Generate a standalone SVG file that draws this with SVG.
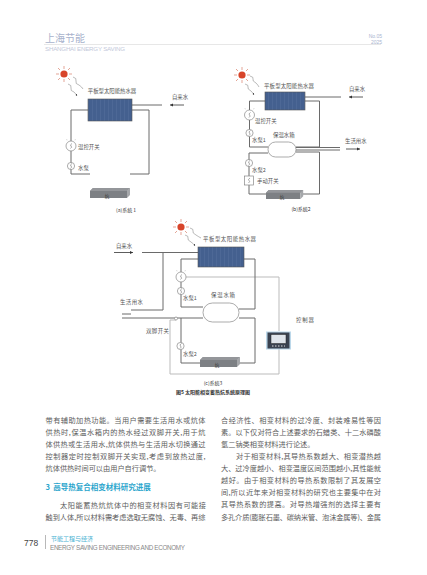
<svg xmlns="http://www.w3.org/2000/svg" width="427" height="575" viewBox="0 0 427 575">
<style>
text{font-family:"Noto Sans CJK SC","Liberation Sans",sans-serif}
.l{font-size:5.4px;fill:#555}
.c{text-anchor:middle}
.b{font-size:7.2px;fill:#5c5c5c}
.p{fill:none;stroke:#6a6a6a;stroke-width:1}
.g{fill:none;stroke:#bbb;stroke-width:1}
.dev{fill:#fff;stroke:#888;stroke-width:.7}
.s{fill:none;stroke:#555;stroke-width:.5}
.w{fill:none;stroke:#777;stroke-width:.5;marker-end:url(#am)}
.arr{stroke:#333;stroke-width:.8;fill:none;marker-end:url(#ah)}
.lat{font-family:"Liberation Sans",sans-serif}
</style>
<defs>
<marker id="ah" markerWidth="5" markerHeight="4" refX="4" refY="2" orient="auto"><path d="M0 0L4 2L0 4Z" fill="#333"/></marker>
<marker id="am" markerUnits="userSpaceOnUse" markerWidth="3" markerHeight="3" refX="2" refY="1" orient="auto"><path d="M0 0L2 1L0 2Z" fill="#444"/></marker>
<pattern id="ps" width="4" height="4" patternUnits="userSpaceOnUse"><rect width="4" height="4" fill="#44608f"/><path d="M0 0V4" stroke="#7288b4" stroke-width=".4"/></pattern>
<g id="sun"><g stroke="#d8806a" stroke-width=".7"><path d="M-8 0H-5M5 0H8M0 -8V-5M0 5V8M-6 -6L-4 -4M4 4L6 6M-6 6L-4 4M4 -4L6 -6"/></g><circle r="3.6" fill="#d8442a"/></g>
<g id="heat"><path d="M0 3L3 0H40L37 3V10H0Z" fill="#7d8084"/><path d="M3 0H40L37 3H0Z" fill="#94969a"/><path d="M37 3L40 0V7L37 10Z" fill="#a5a7aa"/></g>
<path id="sw" class="s" d="M1 -2.500Q-1.500 -1 0 0T-.5 2.500"/>
<g id="tick" stroke="#aaa" stroke-width=".4"><path d="M-5 -6.500L-3.500 -6M5 -6.500L3.500 -6"/></g>
</defs>
<rect width="427" height="575" fill="#fff"/>
<g id="header">
<text x="45" y="41.500" font-size="10" fill="#a8b2cc">上海节能</text>
<path d="M44 44.500H381" stroke="#dcdcdc" stroke-width=".7"/>
<text class="lat" x="45" y="50.500" font-size="6.200" fill="#c3c9da" textLength="80">SHANGHAI ENERGY SAVING</text>
<text class="lat" x="382" y="38" font-size="5" fill="#a9b4d0" text-anchor="end">No.05</text>
<text class="lat" x="382" y="44" font-size="5" fill="#a9b4d0" text-anchor="end">2025</text>
</g>

<g id="connectors">
<path class="p" d="M88 110H71V174H90M130 174H149V110H132M132 105H162"/>
<path class="arr" d="M184 105H170"/>
<path class="w" d="M73 77q4 1 3 4t3 4q3 2 4 4M68 84q4 1 3 4t3 4q2 2 3 4"/>
<path class="p" d="M265 101H249.500V147H268M296 147H319.500V101H305M305 97H341M296 147.500H340M296 150H340M296 152H319.500V194H302M266 194H249V153H268"/>
<path class="arr" d="M363 97H349"/>
<path class="arr" d="M346 149H360"/>
<path class="w" d="M250 76q4 1 3 3t3 4q2 2 3 4M245 84q4 1 3 3t3 4q2 2 3 4"/>
<path class="g" d="M186 277H279V331M279 349V374H170V320H176"/>
<path class="p" d="M142 252.500H198M163 252.500V310H131M131 318H203M198 259H181V307H203M244 259H255V309H239M239 318H255V363H240M200 363H181V318"/>
<path class="arr" d="M114 252.500H133"/>
<path class="w" d="M190 228q4 1 3 3t3 4q3 2 5 3M185 235q4 1 3 3t3 4q3 2 4 4"/>
</g>

<g id="sys1-sun"><use href="#sun" x="64" y="74"/></g>
<g id="sys1-panel"><rect x="88" y="99" width="44" height="22" fill="url(#ps)" stroke="#555" stroke-width=".6"/><text class="l c" x="112" y="93">平板型太阳能热水器</text></g>
<g id="sys1-in"><text class="l c" x="180" y="99">自来水</text></g>
<g id="sys1-switch"><circle class="dev" cx="71" cy="146" r="5"/><use href="#sw" x="71" y="146"/><use href="#tick" x="71" y="146"/><text class="l" x="78" y="148.500">温控开关</text></g>
<g id="sys1-pump"><circle class="dev" cx="71" cy="166" r="3.600"/><use href="#sw" x="71" y="166"/><text class="l" x="78" y="169.500">水泵</text></g>
<g id="sys1-heat"><use href="#heat" x="90" y="188"/><text class="c" x="107" y="198" font-size="4.500" fill="#333">炕</text></g>
<g id="sys1-cap"><text class="c" x="126" y="212" font-size="5" fill="#333">(a)系统 1</text></g>

<g id="sys2-sun"><use href="#sun" x="242" y="75"/></g>
<g id="sys2-panel"><rect x="265" y="92" width="40" height="18" fill="url(#ps)" stroke="#555" stroke-width=".6"/><text class="l" x="264" y="88" textLength="50">平板型太阳能热水器</text></g>
<g id="sys2-in"><text class="l c" x="357" y="91">自来水</text></g>
<g id="sys2-switch"><circle class="dev" cx="249.500" cy="115" r="5"/><use href="#sw" x="249.500" y="115"/><use href="#tick" x="249.500" y="115"/><text class="l" x="255" y="122.500">温控开关</text></g>
<g id="sys2-pump1"><circle class="dev" cx="249.500" cy="133" r="3.600"/><use href="#sw" x="249.500" y="133"/><text class="l" x="252" y="141.500">水泵1</text></g>
<g id="sys2-tank"><rect x="268" y="142" width="28" height="15" rx="7.500" class="dev"/><text class="l" x="273" y="137">保温水箱</text></g>
<g id="sys2-out"><text class="l" x="345" y="143">生活用水</text></g>
<g id="sys2-pump2"><circle class="dev" cx="249" cy="163" r="3.600"/><use href="#sw" x="249" y="163"/><text class="l" x="252" y="171.500">水泵2</text></g>
<g id="sys2-manual"><rect class="dev" x="244.500" y="176" width="9" height="9"/><use href="#sw" x="249" y="180.500"/><text class="l" x="257" y="183">手动开关</text></g>
<g id="sys2-heat"><use href="#heat" transform="translate(266 190) scale(.93 .9)"/><text class="c" x="282" y="198.500" font-size="4.500" fill="#333">炕</text></g>
<g id="sys2-cap"><text class="c" x="301" y="210.500" font-size="5" fill="#333">(b)系统2</text></g>

<g id="sys3-sun"><use href="#sun" x="181" y="227"/></g>
<g id="sys3-panel"><rect x="198" y="247" width="46" height="20" fill="url(#ps)" stroke="#555" stroke-width=".6"/><text class="l" x="203" y="241" textLength="53">平板型太阳能热水器</text></g>
<g id="sys3-in"><text class="l c" x="124" y="248">自来水</text></g>
<g id="sys3-out"><text class="l" x="120" y="304" textLength="23">生活用水</text><path class="p" d="M122 314H131M122 318H131"/></g>
<g id="sys3-valve"><circle class="dev" cx="176" cy="318.500" r="1.500"/><text class="l" x="146" y="333" textLength="23">双脚开关</text></g>
<g id="sys3-switch"><circle class="dev" cx="181" cy="277" r="5"/><use href="#sw" x="181" y="277"/><use href="#tick" x="181" y="277"/></g>
<g id="sys3-pump1"><circle class="dev" cx="181" cy="291" r="3.600"/><use href="#sw" x="181" y="291"/><text class="l" x="183" y="299.500">水泵1</text></g>
<g id="sys3-tank"><rect x="203" y="303" width="36" height="19" rx="9.500" class="dev"/><text class="l" x="211" y="297" textLength="24">保温水箱</text></g>
<g id="sys3-pump2"><circle class="dev" cx="180.500" cy="346" r="3.600"/><use href="#sw" x="180.500" y="346"/><text class="l" x="183" y="355.500">水泵2</text></g>
<g id="sys3-heat"><use href="#heat" x="200" y="357"/><text class="c" x="217" y="366.500" font-size="4.500" fill="#333">炕</text></g>
<g id="sys3-controller"><rect x="266" y="331.500" width="25" height="18" fill="#bcd8ea"/><rect x="267.500" y="332.500" width="22" height="16" fill="#3a4250"/><rect x="271" y="334.500" width="15" height="9" fill="#dfe4ea" stroke="#222" stroke-width=".5"/><path d="M272 346H285" stroke="#ddd" stroke-dasharray="1.500 1.500"/><text class="l" x="296" y="321.500" textLength="18">控制器</text></g>
<g id="sys3-cap"><text class="c" x="213" y="384.500" font-size="5" fill="#333">(c)系统3</text><text class="c" x="213" y="394" font-size="5" font-weight="700" fill="#333">图5 太阳能相变蓄热炕系统原理图</text></g>

<g id="body-left">
<text class="b" x="45.500" y="422.500" textLength="160" lengthAdjust="spacing">带有辅助加热功能。当用户需要生活用水或炕体</text>
<text class="b" x="45.500" y="434.500" textLength="160" lengthAdjust="spacing">供热时,保温水箱内的热水经过双脚开关,用于炕</text>
<text class="b" x="45.500" y="446.500" textLength="160" lengthAdjust="spacing">体供热或生活用水,炕体供热与生活用水切换通过</text>
<text class="b" x="45.500" y="459" textLength="160" lengthAdjust="spacing">控制器定时控制双脚开关实现,考虑到放热过度,</text>
<text class="b" x="45.500" y="471">炕体供热时间可以由用户自行调节。</text>
<text x="45.500" y="489.500" font-size="7.500" font-weight="700" fill="#2ba5cc" xml:space="preserve">3  高导热复合相变材料研究进展</text>
<text class="b" x="60" y="507.500" textLength="146" lengthAdjust="spacing">太阳能蓄热炕炕体中的相变材料因有可能接</text>
<text class="b" x="45.500" y="519.500" textLength="160" lengthAdjust="spacing">触到人体,所以材料需考虑选取无腐蚀、无毒、再综</text>
</g>
<g id="body-right">
<text class="b" x="221" y="422.500" textLength="160" lengthAdjust="spacing">合经济性、相变材料的过冷度、封装难易性等因</text>
<text class="b" x="221" y="434.500" textLength="160" lengthAdjust="spacing">素。以下仅对符合上述要求的石蜡类、十二水磷酸</text>
<text class="b" x="221" y="446.500">氢二钠类相变材料进行论述。</text>
<text class="b" x="236" y="459" textLength="145" lengthAdjust="spacing">对于相变材料,其导热系数越大、相变潜热越</text>
<text class="b" x="221" y="471" textLength="160" lengthAdjust="spacing">大、过冷度越小、相变温度区间范围越小,其性能就</text>
<text class="b" x="221" y="483" textLength="160" lengthAdjust="spacing">越好。由于相变材料的导热系数限制了其发展空</text>
<text class="b" x="221" y="495" textLength="160" lengthAdjust="spacing">间,所以近年来对相变材料的研究也主要集中在对</text>
<text class="b" x="221" y="507" textLength="160" lengthAdjust="spacing">其导热系数的提高。对导热增强剂的选择主要有</text>
<text class="b" x="221" y="519.500" textLength="160" lengthAdjust="spacing">多孔介质(膨胀石墨、碳纳米管、泡沫金属等)、金属</text>
</g>
<g id="footer">
<text class="lat" x="24" y="545.500" font-size="8.500" fill="#444">778</text>
<path d="M45.500 535V549" stroke="#999" stroke-width=".7"/>
<text x="51" y="541" font-size="6" fill="#4bb3d3">节能工程与经济</text>
<text class="lat" x="50" y="550" font-size="6.300" fill="#888" textLength="135">ENERGY SAVING ENGINEERING AND ECONOMY</text>
</g>
</svg>
